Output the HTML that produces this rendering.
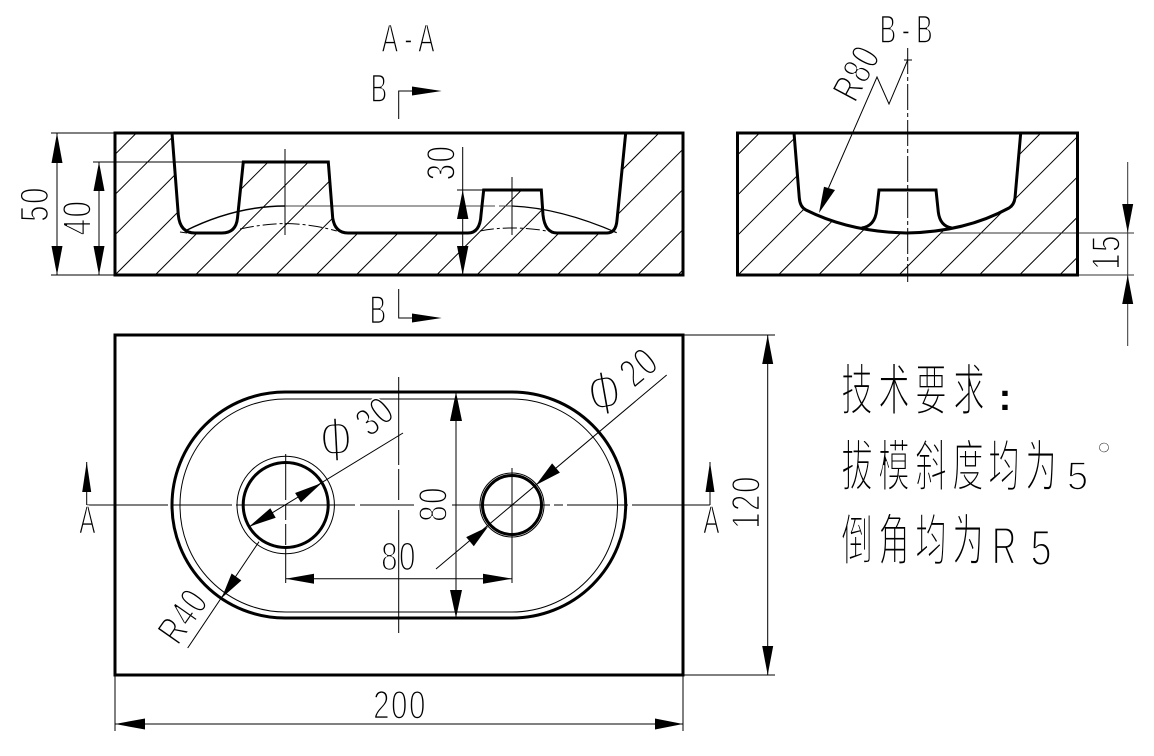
<!DOCTYPE html>
<html><head><meta charset="utf-8"><style>
html,body{margin:0;padding:0;background:#fff}
svg{display:block}
.t text{font-family:"Liberation Sans","Noto Sans CJK SC",sans-serif;font-size:40px;fill:#000;stroke:#fff;stroke-width:1.6px;text-anchor:middle;letter-spacing:2px}
.c text{font-family:"Noto Sans CJK SC","WenQuanYi Zen Hei",sans-serif;font-size:37px;fill:#000;stroke:#fff;stroke-width:1.35px;text-anchor:middle}
</style></head><body>
<svg width="1154" height="756" viewBox="0 0 1154 756" xmlns="http://www.w3.org/2000/svg">
<defs>
<clipPath id="ca"><rect x="115" y="133" width="568" height="142"/></clipPath>
<clipPath id="cb"><rect x="737" y="133" width="341" height="142"/></clipPath>
</defs>
<rect width="1154" height="756" fill="#fff"/>
<!-- hatch A-A -->
<g clip-path="url(#ca)" stroke="#000" stroke-width="1" fill="none">
<path d="M-5.6 275l142-142M34.6 275l142-142M74.8 275l142-142M115 275l142-142M155.2 275l142-142M195.4 275l142-142M235.6 275l142-142M275.8 275l142-142M316 275l142-142M356.2 275l142-142M396.4 275l142-142M436.6 275l142-142M476.8 275l142-142M517 275l142-142M557.2 275l142-142M597.4 275l142-142M637.6 275l142-142M677.8 275l142-142"/>
</g>
<path fill="#fff" d="M172 133L178.3 215Q180 233 195 233L222 233Q236 233 237.5 218L243.3 162L328.3 162L332.7 218Q335 233 348 233L468 233Q480 233 481 215L483.7 190L541.3 190L543 215Q545 233 557 233L607 233Q616 233 617 220L625.7 133Z"/>
<!-- hatch B-B -->
<g clip-path="url(#cb)" stroke="#000" stroke-width="1" fill="none">
<path d="M617.5 275l142-142M657.7 275l142-142M697.9 275l142-142M738.1 275l142-142M778.3 275l142-142M818.5 275l142-142M858.7 275l142-142M898.9 275l142-142M939.1 275l142-142M979.3 275l142-142M1019.5 275l142-142M1059.7 275l142-142"/>
</g>
<path fill="#fff" d="M794 133L799.3 198Q800 207 806 210Q850 232 906.7 233Q965 232 1009 208Q1014 205 1015 198L1020.7 133Z"/>
<!-- thin lines -->
<g stroke="#000" stroke-width="1" fill="none">
<path d="M51 133H115M51 275H115M57 133V275M93 162H243M99 162V275"/>
<path d="M285 149V235M512 177V235" />
<path d="M285 206H495M499 206H512" stroke="#444"/>
<path d="M185 231Q235 206 285 206" stroke-width="1.5"/>
<path d="M512 206Q560 208 616.7 232.7" stroke-width="1.3"/>
<path d="M180 232L187 233M240 229Q262 224 285 223.5Q312 224 336.7 231M480 231Q495 228 511.7 228Q530 228 546.7 231" stroke-dasharray="14 3 3 3"/>
<path d="M462.7 147V275M457 190H484"/>
<path d="M907.7 48V282" stroke-dasharray="26 3 4 3"/>
<path d="M904 60H912"/>
<path d="M828.5 188L877 77L889 104L907.7 60"/>
<path d="M940 233H1134M1077 275H1134M1127.7 162V346" stroke="#333"/>
<!-- plan -->
<path d="M87 505H168M172 505H232M236 505H355M360 505H414M452 505H550M554 505H563M567 505H628M632 505H710"/>
<path d="M285.7 454V500M285.7 504V520M285.7 524V545M285.7 549V583M512 468V583M398.7 377V465M398.7 469V500M398.7 510V633"/>
<path d="M180 505A105.5 106 0 0 1 285.5 399H512A105.5 106 0 0 1 617.5 505A105.5 106 0 0 1 512 612H285.5A105.5 106 0 0 1 180 505Z"/>
<circle cx="285.7" cy="505" r="48.7"/>
<circle cx="512" cy="505" r="32"/>
<path d="M456 392V618M285.7 578.7H512"/>
<path d="M403 433L249 527M259 541.7L187.7 648M666.7 375L436 569"/>
<path d="M86.7 462V505M710 462V505"/>
<path d="M683 335H775M683 675H775M767.7 335V675M115 675V731M683 675V731M115 724H683"/>
<path d="M398.7 119V91H412M398.7 289V318H412"/>
</g>
<!-- thick lines -->
<g stroke="#000" stroke-width="3" fill="none">
<rect x="115" y="133" width="568" height="142"/>
<rect x="737.5" y="133" width="340" height="142"/>
<rect x="115" y="335" width="568" height="340"/>
<path d="M172 133L178.3 215Q180 233 195 233L222 233Q236 233 237.5 218L243.3 162L328.3 162L332.7 218Q335 233 348 233L468 233Q480 233 481 215L483.7 190L541.3 190L543 215Q545 233 557 233L607 233Q616 233 617 220L625.7 133"/>
<path d="M794 133L799.3 198Q800 207 806 210Q850 232 906.7 233Q965 232 1009 208Q1014 205 1015 198L1020.7 133"/>
<path d="M861.7 228Q875 226 876.7 210L879 190H936L938.3 212Q940 226 951.7 228"/>
<path d="M172 505A113 113 0 0 1 285 392H512A113.7 113 0 0 1 625.7 505A113.7 113 0 0 1 512 618H285A113 113 0 0 1 172 505Z"/>
<circle cx="285.7" cy="505" r="42.5"/>
<circle cx="512" cy="505" r="29.5"/>
</g>
<!-- arrowheads -->
<g fill="#000">
<polygon points="57,133 51.5,163 62.5,163"/><polygon points="57,275 51.5,246 62.5,246"/>
<polygon points="99,162 93.5,191 104.5,191"/><polygon points="99,275 93.5,246 104.5,246"/>
<polygon points="462.7,190 457,219 468.4,219"/><polygon points="462.7,275 457,246 468.4,246"/>
<polygon points="441.7,91 412,86.5 412,95.5"/><polygon points="441.7,318 412,313.5 412,322.5"/>
<polygon points="819,213 824,186.7 835,190"/>
<polygon points="1127.7,232.5 1122.2,204 1133.2,204"/><polygon points="1127.7,275 1122.2,304 1133.2,304"/>
<polygon points="86.7,462 82.2,492 91.2,492"/><polygon points="710,462 705.5,492 714.5,492"/>
<polygon points="456,392 450,421 462,421"/><polygon points="456,618 450,590 462,590"/>
<polygon points="285.7,578.7 314,573.7 314,583.7"/><polygon points="512,578.7 483,573.7 483,583.7"/>
<polygon points="321.7,483 300.9,502.4 295.1,493"/><polygon points="249,526.7 275.7,517.8 270.3,508.2"/>
<polygon points="221.7,598 241.4,580.5 231.6,573.5"/>
<polygon points="536,485 559.9,472.6 552.1,463.4"/><polygon points="488,526.7 473.8,546.3 466.2,537.1"/>
<polygon points="767.7,335 762.2,364 773.2,364"/><polygon points="767.7,675 762.2,646 773.2,646"/>
<polygon points="115,724 145,718.5 145,729.5"/><polygon points="683,724 655,718.5 655,729.5"/>
</g>
<!-- text -->
<g class="t">
<text transform="translate(390.5,38.5) scale(.62,1)" y="13.5">A</text>
<text transform="translate(409,38.5) scale(.62,1)" y="13.5">-</text>
<text transform="translate(427,38.5) scale(.62,1)" y="13.5">A</text>
<text transform="translate(379.5,88.5) scale(.62,1)" y="13.5">B</text>
<text transform="translate(378.5,310) scale(.62,1)" y="13.5">B</text>
<text transform="translate(888.5,29.5) scale(.62,1)" y="13.5">B</text>
<text transform="translate(925,29.5) scale(.62,1)" y="13.5">B</text>
<text transform="translate(906.5,29.5) scale(.62,1)" y="13.5">-</text>
<text transform="translate(88,520) scale(.62,1)" y="13.5">A</text>
<text transform="translate(712,520) scale(.62,1)" y="13.5">A</text>
<text transform="translate(34.5,204) rotate(-90) scale(.74,1)" y="13.5">50</text>
<text transform="translate(77,217.5) rotate(-90) scale(.74,1)" y="13.5">40</text>
<text transform="translate(441,162.5) rotate(-90) scale(.74,1)" y="13.5">30</text>
<text transform="translate(1106,252) rotate(-90) scale(.74,1)" y="13.5">15</text>
<text transform="translate(746,502) rotate(-90) scale(.74,1)" y="13.5">120</text>
<text transform="translate(400,705) scale(.74,1)" y="13.5">200</text>
<text transform="translate(399,556.5) scale(.74,1)" y="13.5">80</text>
<text transform="translate(433,504) rotate(-90) scale(.74,1)" y="13.5">80</text>
<text transform="translate(856.5,73) rotate(-62) scale(.7,1)" y="13.5">R80</text>
<text transform="translate(183,616) rotate(-55) scale(.7,1)" y="13.5">R40</text>
<text transform="translate(375,416) rotate(-40) scale(.74,1)" y="13.5">30</text>
<text transform="translate(639,367) rotate(-40) scale(.74,1)" y="13.5">20</text>
<text transform="translate(336,439) rotate(-3) scale(1,1.6)" y="14" style="letter-spacing:0;stroke-width:2px">Φ</text>
<text transform="translate(604.3,392.7) rotate(-10) scale(1,1.6)" y="14" style="letter-spacing:0;stroke-width:2px">Φ</text>
<text transform="translate(1078.5,476) scale(.95,1)" y="13.5">5</text>
<text transform="translate(1005,546) scale(.85,1.33)" y="13.5">R</text>
<text transform="translate(1042,548) scale(.95,1.25)" y="13.5">5</text>
<text transform="translate(1105,470)">°</text>
</g>
<text x="1005" y="410" font-family="Liberation Sans" font-weight="bold" font-size="38" text-anchor="middle" fill="#000">:</text>
<g class="c">
<text transform="translate(857,410) scale(.85,1.5)">技</text>
<text transform="translate(894,410) scale(.85,1.5)">术</text>
<text transform="translate(931,410) scale(.85,1.5)">要</text>
<text transform="translate(969,410) scale(.85,1.5)">求</text>
<text transform="translate(857,486) scale(.85,1.5)">拔</text>
<text transform="translate(894,486) scale(.85,1.5)">模</text>
<text transform="translate(931,486) scale(.85,1.5)">斜</text>
<text transform="translate(968,486) scale(.85,1.5)">度</text>
<text transform="translate(1004,486) scale(.85,1.5)">均</text>
<text transform="translate(1041,486) scale(.85,1.5)">为</text>
<text transform="translate(857,560) scale(.85,1.5)">倒</text>
<text transform="translate(894,560) scale(.85,1.5)">角</text>
<text transform="translate(931,560) scale(.85,1.5)">均</text>
<text transform="translate(968,560) scale(.85,1.5)">为</text>
</g>
</svg>
</body></html>
